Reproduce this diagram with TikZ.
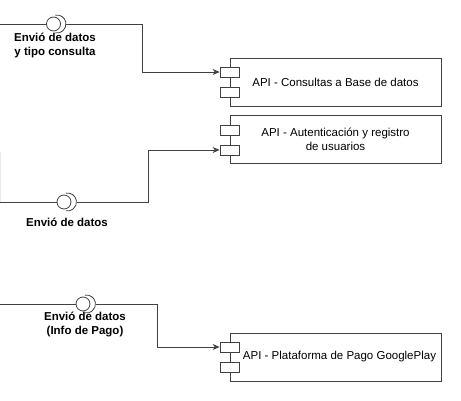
\documentclass[tikz,border=0pt]{standalone}
\usepackage{fontspec}
\setmainfont{Liberation Sans}
\usetikzlibrary{arrows.meta,calc}
\tikzset{>={Stealth[length=7pt,width=6pt]}}

\begin{document}
\begin{tikzpicture}[x=1pt,y=-1pt,line width=0.8pt,
    api/.style={draw=black!75,minimum width=211pt,minimum height=48pt,align=center,
      font=\fontsize{11.5}{14}\selectfont},
    port/.style={draw=black!75,fill=white,minimum width=19pt,minimum height=10pt,inner sep=0pt},
    iface/.style={draw=black!75,circle,minimum size=14pt,inner sep=0pt},
    lbl/.style={align=center,inner sep=0pt,font=\bfseries\fontsize{11.5}{14}\selectfont}]
      \useasboundingbox (0,0) rectangle (461,401);

      \node[api] (api1) at (335.5,82) {API - Consultas a Base de datos};
      \node[api] (api2) at (335.5,139.5) {API - Autenticación y registro\\de usuarios};
      \node[api] (api3) at (335.5,357) {\hspace*{8pt}API - Plataforma de Pago GooglePlay};

      \foreach \n/\y in {1/82, 2/140, 3/357} {
        \node[port] (pa\n) at (229.5,\y-10) {};
        \node[port] (pb\n) at (229.5,\y+10) {};
      }

      \foreach \n/\x/\y in {1/53.5/24, 2/64/202, 3/83/304} {
        \coordinate (in\n) at (0,\y);
        \node[iface] (if\n) at (\x,\y) {};
        \draw[black!75] ([xshift=3.5pt]if\n.center) ++(100:9pt) arc[start angle=100,end angle=-100,radius=9pt];
        \coordinate (sk\n) at ([xshift=12.5pt]if\n.center);
        \draw[black!75] (in\n) -- (if\n);
      }

      \node[lbl] (l1) at (55,45) {Envió de datos\\y tipo consulta};
      \node[lbl] (l2) at (67,222) {Envió de datos};
      \node[lbl] (l3) at (85,324.5) {Envió de datos\\(Info de Pago)};

      \coordinate (edge2) at (0,152);
      \draw[black!8] (edge2) -- (in2);

      \draw[->,black!75] (sk1) -| ($(sk1)!.5!(pa1.west)$) |- (pa1.west);
      \draw[->,black!75] (sk2) -| ($(sk2)!.5!(pb2.west)$) |- (pb2.west);
      \draw[->,black!75] (sk3) -| ($(sk3)!.5!(pa3.west)$) |- (pa3.west);
    \end{tikzpicture}
\end{document}
